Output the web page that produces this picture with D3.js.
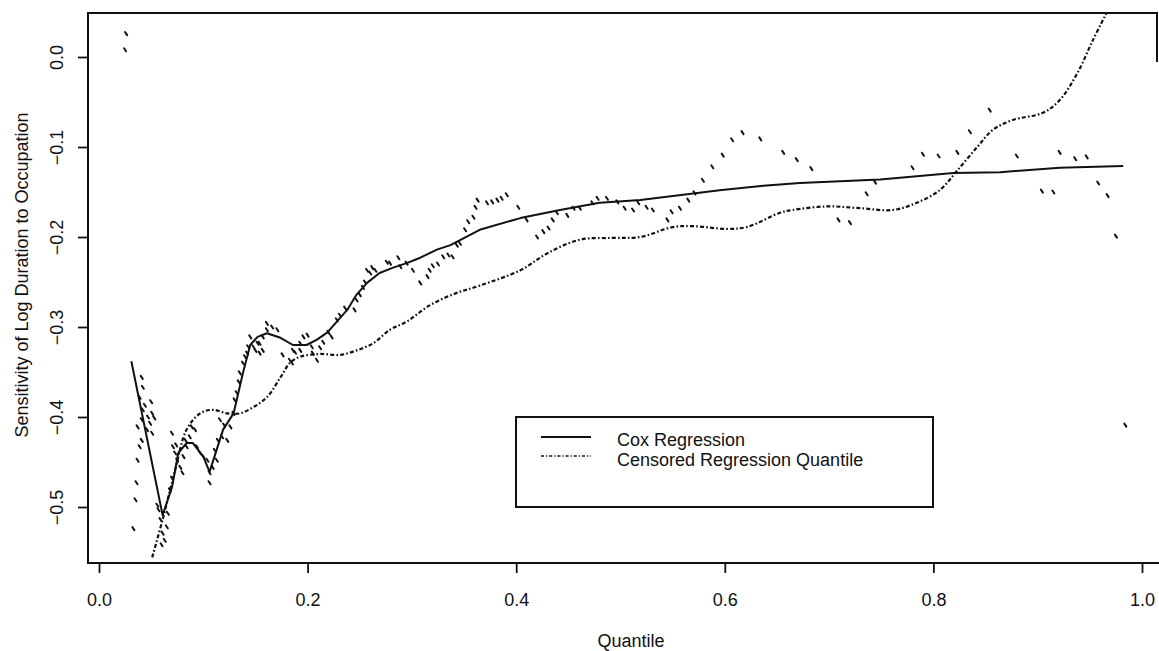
<!DOCTYPE html>
<html>
<head>
<meta charset="utf-8">
<script src="https://cdn.jsdelivr.net/npm/d3@7"></script>
<style>
  html, body { margin: 0; padding: 0; background: #fff; }
  svg { display: block; }
  text { font-family: "Liberation Sans", Arial, Helvetica, sans-serif; fill: #111; }
</style>
</head>
<body>
<svg id="chart" width="1159" height="651"></svg>
<script>
// Cox regression estimate: [quantile, sensitivity]
const coxRegression = [
  [0.031, -0.338], [0.061, -0.509], [0.070, -0.478], [0.076, -0.440], [0.084, -0.429],
  [0.090, -0.429], [0.100, -0.444], [0.106, -0.461], [0.119, -0.414], [0.129, -0.396],
  [0.138, -0.351], [0.145, -0.320], [0.152, -0.311], [0.161, -0.307], [0.174, -0.312],
  [0.186, -0.320], [0.199, -0.320], [0.209, -0.314], [0.219, -0.306], [0.228, -0.294],
  [0.238, -0.281], [0.247, -0.264], [0.257, -0.251], [0.269, -0.240], [0.282, -0.234],
  [0.295, -0.229], [0.308, -0.223], [0.324, -0.214], [0.337, -0.209], [0.365, -0.192],
  [0.404, -0.179], [0.442, -0.170], [0.480, -0.162], [0.519, -0.159], [0.560, -0.153],
  [0.595, -0.148], [0.637, -0.143], [0.672, -0.140], [0.749, -0.136], [0.819, -0.129],
  [0.864, -0.128], [0.921, -0.123], [0.982, -0.121]
];

// Censored regression quantile estimate: [quantile, sensitivity]
const censoredQuantile = [
  [0.051, -0.556], [0.061, -0.514], [0.073, -0.459], [0.084, -0.414], [0.097, -0.396],
  [0.109, -0.392], [0.123, -0.396], [0.135, -0.396], [0.148, -0.389], [0.161, -0.378],
  [0.174, -0.356], [0.183, -0.340], [0.193, -0.333], [0.212, -0.330], [0.231, -0.331],
  [0.247, -0.326], [0.263, -0.318], [0.279, -0.303], [0.295, -0.294], [0.317, -0.276],
  [0.341, -0.263], [0.365, -0.254], [0.404, -0.237], [0.430, -0.218], [0.461, -0.203],
  [0.493, -0.201], [0.519, -0.200], [0.550, -0.189], [0.570, -0.188], [0.602, -0.191],
  [0.621, -0.189], [0.653, -0.173], [0.665, -0.170], [0.698, -0.166], [0.730, -0.168],
  [0.761, -0.170], [0.784, -0.162], [0.806, -0.148], [0.823, -0.126], [0.842, -0.100],
  [0.857, -0.081], [0.876, -0.070], [0.905, -0.062], [0.921, -0.048], [0.938, -0.018],
  [0.953, 0.019], [0.966, 0.049]
];

// Pointwise quantile estimates: [quantile, sensitivity]
const pointEstimates = [
  [0.026, 0.026], [0.025, 0.008],
  [0.041, -0.356], [0.042, -0.367], [0.039, -0.378], [0.044, -0.387], [0.042, -0.392],
  [0.051, -0.396], [0.047, -0.400], [0.041, -0.403], [0.049, -0.407], [0.037, -0.411],
  [0.046, -0.414], [0.051, -0.418], [0.041, -0.426], [0.039, -0.433], [0.037, -0.448],
  [0.036, -0.473], [0.035, -0.492], [0.033, -0.524], [0.050, -0.383], [0.053, -0.401],
  [0.056, -0.498], [0.057, -0.503], [0.059, -0.514], [0.061, -0.529], [0.063, -0.537],
  [0.065, -0.522], [0.066, -0.507], [0.060, -0.542],
  [0.068, -0.481], [0.070, -0.468], [0.070, -0.418], [0.071, -0.433], [0.073, -0.440],
  [0.074, -0.431], [0.075, -0.448], [0.078, -0.456], [0.080, -0.462], [0.081, -0.444],
  [0.083, -0.426], [0.084, -0.433], [0.087, -0.422], [0.089, -0.411], [0.092, -0.414],
  [0.094, -0.433], [0.097, -0.440], [0.100, -0.444], [0.104, -0.448], [0.106, -0.462],
  [0.106, -0.473], [0.109, -0.456], [0.111, -0.437], [0.113, -0.448], [0.114, -0.426],
  [0.116, -0.403], [0.118, -0.422], [0.120, -0.409], [0.123, -0.426], [0.126, -0.411],
  [0.129, -0.396], [0.130, -0.381], [0.132, -0.373], [0.134, -0.361], [0.135, -0.351],
  [0.138, -0.340], [0.140, -0.333], [0.142, -0.329], [0.143, -0.322], [0.145, -0.311],
  [0.148, -0.322], [0.150, -0.326], [0.152, -0.318], [0.154, -0.318], [0.154, -0.329],
  [0.157, -0.311], [0.157, -0.326], [0.161, -0.296], [0.161, -0.303], [0.166, -0.300],
  [0.171, -0.303],
  [0.176, -0.331], [0.183, -0.337], [0.185, -0.340], [0.186, -0.326], [0.188, -0.328],
  [0.193, -0.326], [0.193, -0.318], [0.196, -0.311], [0.200, -0.309], [0.204, -0.322],
  [0.205, -0.329], [0.209, -0.337], [0.212, -0.323], [0.215, -0.317], [0.220, -0.306],
  [0.223, -0.311], [0.228, -0.292], [0.231, -0.287],
  [0.236, -0.279], [0.245, -0.281], [0.247, -0.270], [0.250, -0.264], [0.253, -0.256],
  [0.255, -0.250], [0.257, -0.237], [0.260, -0.240], [0.262, -0.234], [0.265, -0.237],
  [0.276, -0.228], [0.279, -0.229], [0.287, -0.223], [0.289, -0.233], [0.295, -0.229],
  [0.301, -0.237], [0.308, -0.251], [0.315, -0.244], [0.317, -0.237], [0.320, -0.232],
  [0.325, -0.230], [0.330, -0.222], [0.335, -0.220], [0.339, -0.222], [0.343, -0.209],
  [0.346, -0.207],
  [0.351, -0.192], [0.354, -0.183], [0.359, -0.178], [0.361, -0.167], [0.363, -0.159],
  [0.372, -0.162], [0.377, -0.161], [0.382, -0.159], [0.386, -0.157], [0.391, -0.153],
  [0.402, -0.167],
  [0.410, -0.181], [0.420, -0.200], [0.426, -0.194], [0.431, -0.190], [0.435, -0.181],
  [0.439, -0.173], [0.449, -0.176], [0.455, -0.168], [0.461, -0.168], [0.473, -0.162],
  [0.478, -0.157], [0.487, -0.157], [0.497, -0.161], [0.504, -0.168], [0.512, -0.170],
  [0.517, -0.162], [0.525, -0.167], [0.531, -0.170], [0.545, -0.181], [0.549, -0.172],
  [0.557, -0.168], [0.565, -0.159], [0.571, -0.151],
  [0.579, -0.137], [0.588, -0.122], [0.598, -0.109], [0.607, -0.092], [0.617, -0.084],
  [0.634, -0.091], [0.656, -0.106], [0.669, -0.114], [0.683, -0.124],
  [0.709, -0.181], [0.720, -0.184], [0.736, -0.152], [0.744, -0.139], [0.780, -0.123],
  [0.790, -0.108], [0.805, -0.110], [0.823, -0.106], [0.835, -0.083], [0.854, -0.059],
  [0.880, -0.110], [0.904, -0.149], [0.915, -0.150], [0.921, -0.106], [0.936, -0.113],
  [0.947, -0.111], [0.958, -0.140], [0.967, -0.154], [0.975, -0.199], [0.984, -0.409]
];

const xTicks = [0.0, 0.2, 0.4, 0.6, 0.8, 1.0];
const yTicks = [0.0, -0.1, -0.2, -0.3, -0.4, -0.5];
const legendLabels = ["Cox Regression", "Censored Regression Quantile"];

const svg = d3.select("#chart");
const frame = { left: 88, right: 1157, top: 13, bottom: 563 };

const x = d3.scaleLinear().domain([0, 1]).range([99, 1142]);
const y = d3.scaleLinear().domain([0, -0.5]).range([57, 507]);

const ink = "#111";
const dashDot = "4,2.2,1.6,2.2";

// clip area for the curves
svg.append("defs").append("clipPath").attr("id", "plotArea")
  .append("rect")
  .attr("x", frame.left).attr("y", frame.top)
  .attr("width", frame.right - frame.left).attr("height", frame.bottom - frame.top);

// plot frame (right side only partly visible at the page edge)
svg.append("path")
  .attr("d", `M${frame.right},${frame.top + 49} L${frame.right},${frame.top} L${frame.left},${frame.top} L${frame.left},${frame.bottom} L1159,${frame.bottom}`)
  .attr("fill", "none").attr("stroke", ink).attr("stroke-width", 2);

// x axis
const xAxis = d3.axisBottom(x).tickValues(xTicks).tickFormat(d3.format(".1f")).tickSize(10).tickPadding(20);
const gx = svg.append("g").attr("transform", `translate(0,${frame.bottom})`).call(xAxis);
gx.select(".domain").remove();
gx.selectAll(".tick line").attr("stroke", ink).attr("stroke-width", 1.8);
gx.selectAll(".tick text").attr("font-size", 18).attr("fill", ink)
  .attr("font-family", "'Liberation Sans', Arial, sans-serif");

// y axis with rotated labels
const yAxis = d3.axisLeft(y).tickValues(yTicks).tickFormat(d3.format(".1f")).tickSize(10).tickPadding(0);
const gy = svg.append("g").attr("transform", `translate(${frame.left},0)`).call(yAxis);
gy.select(".domain").remove();
gy.selectAll(".tick line").attr("stroke", ink).attr("stroke-width", 1.8);
gy.selectAll(".tick text")
  .attr("font-size", 18).attr("fill", ink)
  .attr("font-family", "'Liberation Sans', Arial, sans-serif")
  .attr("x", null).attr("dy", null)
  .attr("text-anchor", "middle")
  .attr("transform", "translate(-25,0) rotate(-90)");

// axis titles
svg.append("text")
  .attr("x", 631).attr("y", 647)
  .attr("text-anchor", "middle").attr("font-size", 18)
  .text("Quantile");

svg.append("text")
  .attr("transform", "translate(28,275) rotate(-90)")
  .attr("text-anchor", "middle").attr("font-size", 18)
  .text("Sensitivity of Log Duration to Occupation");

const plot = svg.append("g").attr("clip-path", "url(#plotArea)");

// pointwise estimates as short slanted strokes
plot.selectAll("line.pt").data(pointEstimates).join("line")
  .attr("class", "pt")
  .attr("x1", d => x(d[0]) - 1).attr("y1", d => y(d[1]) - 1.5)
  .attr("x2", d => x(d[0]) + 1).attr("y2", d => y(d[1]) + 1.5)
  .attr("stroke", ink).attr("stroke-width", 2).attr("stroke-linecap", "round");

// smooth quantile curve, piecewise Cox curve
const smoothLine = d3.line()
  .x(d => x(d[0])).y(d => y(d[1]))
  .curve(d3.curveCatmullRom.alpha(0.5));
const straightLine = d3.line()
  .x(d => x(d[0])).y(d => y(d[1]));

plot.append("path").datum(censoredQuantile)
  .attr("d", smoothLine)
  .attr("fill", "none").attr("stroke", ink).attr("stroke-width", 2.2)
  .attr("stroke-dasharray", dashDot);

plot.append("path").datum(coxRegression)
  .attr("d", straightLine)
  .attr("fill", "none").attr("stroke", ink).attr("stroke-width", 2)
  .attr("stroke-linejoin", "round");

// legend
const legend = svg.append("g");
legend.append("rect")
  .attr("x", 516).attr("y", 417).attr("width", 417).attr("height", 90)
  .attr("fill", "#fff").attr("stroke", ink).attr("stroke-width", 2);

const legendRows = legendLabels.map((label, i) => ({ label, i }));
legend.selectAll("line.key").data(legendRows).join("line")
  .attr("class", "key")
  .attr("x1", 541).attr("x2", 591)
  .attr("y1", d => 437 + d.i * 19).attr("y2", d => 437 + d.i * 19)
  .attr("stroke", ink)
  .attr("stroke-width", d => d.i === 0 ? 2 : 1.6)
  .attr("stroke-dasharray", d => d.i === 0 ? null : "3,2,1.2,2");

legend.selectAll("text.key").data(legendRows).join("text")
  .attr("class", "key")
  .attr("x", 617).attr("y", d => 446 + d.i * 20)
  .attr("font-size", 18)
  .text(d => d.label);
</script>
</body>
</html>
